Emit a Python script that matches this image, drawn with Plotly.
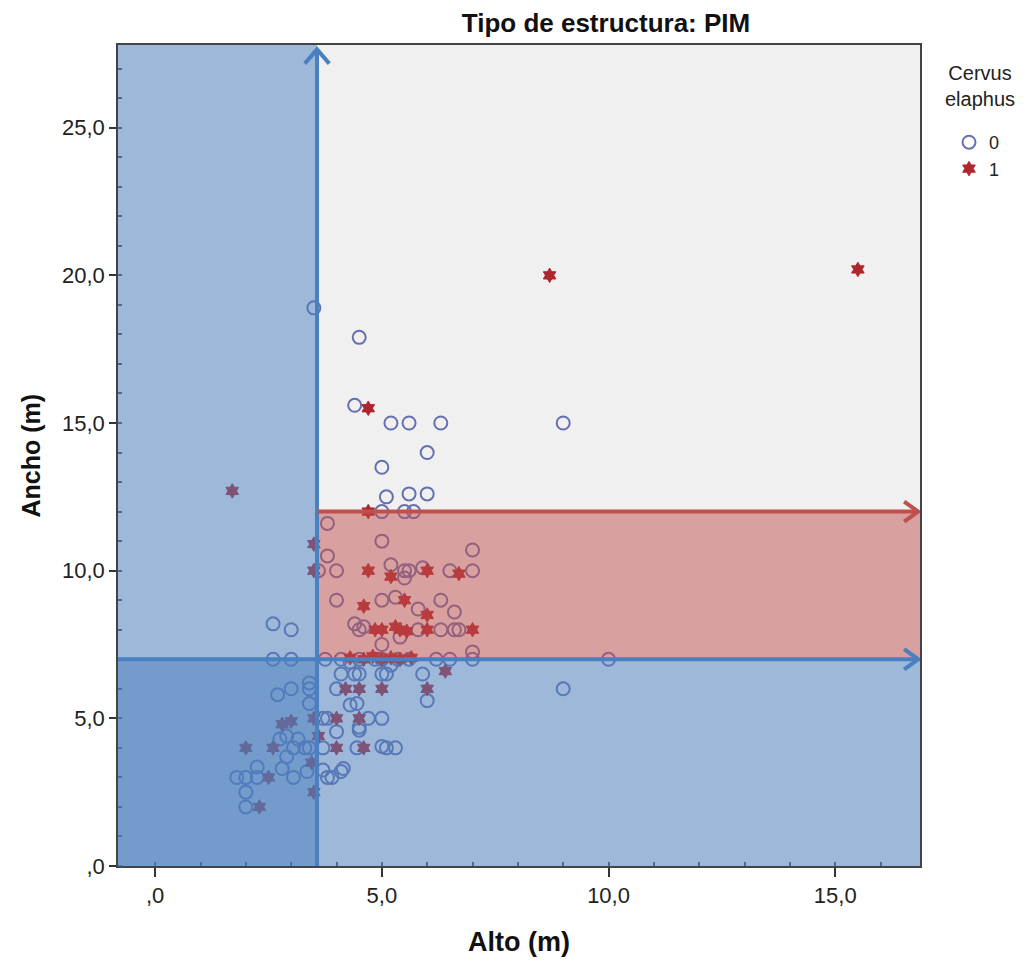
import plotly.graph_objects as go

# ---- data: group 0 (open circles) ----
alto_0 = [3.5, 4.5, 4.4, 5.2, 5.6, 6.3, 9.0, 6.0, 5.0, 5.1, 5.6, 6.0, 5.0, 5.5, 5.7,
          3.8, 5.0, 3.8, 7.0, 3.6, 4.0, 5.2, 5.5, 5.6, 5.5, 5.9, 6.5, 7.0, 4.0, 5.0, 5.3, 5.8, 6.3, 6.6,
          4.5, 4.4, 5.8, 6.3, 6.7, 6.6, 5.0, 5.4, 7.0, 4.6,
          2.6, 3.0, 3.75, 4.1, 4.5, 4.85, 5.0, 5.35, 5.6, 6.2, 6.5, 7.0, 10.0, 4.3, 5.2,
          2.6, 3.0,
          3.4, 3.0, 2.7, 3.4, 3.4, 4.1, 4.4, 4.5, 5.0, 5.1, 5.9, 4.0, 6.0, 4.45, 4.3, 9.0,
          3.7, 3.8, 5.0, 4.7, 4.5, 4.0, 4.5, 2.75, 2.9, 3.15, 3.05, 3.3, 3.4, 3.7, 4.45,
          5.0, 5.1, 5.3, 2.9, 2.25, 2.8, 3.35, 3.7, 4.1, 4.15, 1.8, 2.0, 2.25, 3.05, 3.9,
          3.8, 2.0, 2.0]
ancho_0 = [18.9, 17.9, 15.6, 15.0, 15.0, 15.0, 15.0, 14.0, 13.5, 12.5, 12.6, 12.6, 12.0, 12.0, 12.0,
           11.6, 11.0, 10.5, 10.7, 10.0, 10.0, 10.2, 10.0, 10.0, 9.75, 10.1, 10.0, 10.0, 9.0, 9.0, 9.1, 8.7, 9.0, 8.6,
           8.0, 8.2, 8.0, 8.0, 8.0, 8.0, 7.5, 7.75, 7.25, 8.1,
           7.0, 7.0, 7.0, 7.0, 7.0, 7.0, 7.0, 7.0, 7.0, 7.0, 7.0, 7.0, 7.0, 6.9, 6.8,
           8.2, 8.0,
           6.2, 6.0, 5.8, 5.5, 6.0, 6.5, 6.5, 6.5, 6.5, 6.5, 6.5, 6.0, 5.6, 5.5, 5.45, 6.0,
           5.0, 5.0, 5.0, 5.0, 4.7, 4.55, 4.6, 4.3, 4.4, 4.3, 4.0, 4.0, 4.0, 4.0, 4.0,
           4.05, 4.0, 4.0, 3.7, 3.35, 3.3, 3.2, 3.25, 3.2, 3.3, 3.0, 3.0, 3.0, 3.0, 3.0,
           3.0, 2.5, 2.0]

# ---- data: group 1 (stars) ----
alto_1 = [8.7, 15.5, 4.7, 1.7, 4.7, 3.5, 3.5, 4.7, 5.2, 6.0, 6.7, 4.6, 5.5, 6.0,
          4.85, 5.0, 5.3, 5.55, 5.4, 6.0, 7.0, 4.3, 4.6, 4.8, 5.0, 5.2, 5.4, 5.65,
          6.4, 6.0, 4.2, 4.5, 5.0, 2.8, 3.0, 3.5, 4.0, 4.5, 3.6, 2.0, 2.6, 4.0, 4.6,
          3.45, 2.5, 3.5, 2.3]
ancho_1 = [20.0, 20.2, 15.5, 12.7, 12.0, 10.9, 10.0, 10.0, 9.8, 10.0, 9.9, 8.8, 9.0, 8.5,
           8.0, 8.0, 8.1, 7.95, 8.0, 8.0, 8.0, 7.05, 7.0, 7.1, 7.0, 7.05, 7.0, 7.05,
           6.6, 6.0, 6.0, 6.0, 6.0, 4.8, 4.9, 5.0, 5.0, 5.0, 4.4, 4.0, 4.0, 4.0, 4.0,
           3.5, 3.0, 2.5, 2.0]

# ---- thresholds and axes ----
alto_cut = 3.57
ancho_low = 7.0
ancho_high = 12.0
x_range = [-0.82, 16.87]
y_range = [0, 27.8]
x_ticks = [0, 5, 10, 15]
x_ticktext = [",0", "5,0", "10,0", "15,0"]
y_ticks = [0, 5, 10, 15, 20, 25]
y_ticktext = [",0", "5,0", "10,0", "15,0", "20,0", "25,0"]

FONT = "Liberation Sans, Arial, sans-serif"
BLUE = "#4a7fc0"
RED = "#c0504d"

fig = go.Figure()
fig.add_trace(go.Scatter(
    x=alto_0, y=ancho_0, mode="markers", name="0",
    marker=dict(symbol="circle-open", size=13, color="#6670b0",
                line=dict(width=2, color="#6670b0"))))
fig.add_trace(go.Scatter(
    x=alto_1, y=ancho_1, mode="markers", name="1",
    marker=dict(symbol="hexagram", size=11, color="#b0262e",
                line=dict(width=1, color="#b0262e"))))

shapes = []
# shaded regions (semi-transparent, above points)
shapes.append(dict(type="rect", xref="x", yref="y", x0=x_range[0], x1=alto_cut,
                   y0=y_range[0], y1=y_range[1], fillcolor=BLUE, opacity=0.5,
                   line=dict(width=0), layer="above"))
shapes.append(dict(type="rect", xref="x", yref="y", x0=x_range[0], x1=x_range[1],
                   y0=y_range[0], y1=ancho_low, fillcolor=BLUE, opacity=0.5,
                   line=dict(width=0), layer="above"))
shapes.append(dict(type="rect", xref="x", yref="y", x0=alto_cut, x1=x_range[1],
                   y0=ancho_low, y1=ancho_high, fillcolor=RED, opacity=0.5,
                   line=dict(width=0), layer="above"))

tip_x = 16.83
tip_y = 27.65
# lines
shapes.append(dict(type="line", xref="x", yref="y", x0=alto_cut, x1=alto_cut,
                   y0=y_range[0], y1=tip_y, line=dict(color=BLUE, width=4), layer="above"))
shapes.append(dict(type="line", xref="x", yref="y", x0=alto_cut, x1=tip_x,
                   y0=ancho_high, y1=ancho_high, line=dict(color=RED, width=4), layer="above"))
shapes.append(dict(type="line", xref="x", yref="y", x0=x_range[0], x1=tip_x,
                   y0=ancho_low, y1=ancho_low, line=dict(color=BLUE, width=4), layer="above"))
# arrow heads (chevrons)
ax, ay = 0.27, 0.48   # vertical arrow half-width / length
hx, hy = 0.31, 0.34   # horizontal arrow length / half-height
shapes.append(dict(type="path", xref="x", yref="y",
                   path=f"M {alto_cut-ax},{tip_y-ay} L {alto_cut},{tip_y} L {alto_cut+ax},{tip_y-ay}",
                   line=dict(color=BLUE, width=4), layer="above"))
shapes.append(dict(type="path", xref="x", yref="y",
                   path=f"M {tip_x-hx},{ancho_high+hy} L {tip_x},{ancho_high} L {tip_x-hx},{ancho_high-hy}",
                   line=dict(color=RED, width=4), layer="above"))
shapes.append(dict(type="path", xref="x", yref="y",
                   path=f"M {tip_x-hx},{ancho_low+hy} L {tip_x},{ancho_low} L {tip_x-hx},{ancho_low-hy}",
                   line=dict(color=BLUE, width=4), layer="above"))

fig.update_layout(
    width=1029, height=963,
    margin=dict(l=118, r=109, t=45, b=97),
    paper_bgcolor="white", plot_bgcolor="#f0f0f0",
    font=dict(family=FONT, size=20, color="#222"),
    shapes=shapes,
    title=dict(text="<b>Tipo de estructura: PIM</b>", x=606 / 1029, xref="container", xanchor="center",
               y=1 - 23 / 963, yref="container", yanchor="middle",
               font=dict(family=FONT, size=26, color="#111")),
    showlegend=True,
    legend=dict(xref="container", yref="container", x=949 / 1029, y=1 - 124 / 963,
                xanchor="left", yanchor="top",
                font=dict(family=FONT, size=18, color="#222"),
                bgcolor="rgba(0,0,0,0)", itemwidth=30, tracegroupgap=0),
    annotations=[
        dict(text="Cervus<br>elaphus", xref="paper", yref="paper",
             x=(980 - 118) / 802, y=(866 - 86) / 821,
             showarrow=False, xanchor="center", yanchor="middle", align="center",
             font=dict(family=FONT, size=20, color="#222")),
        dict(text="<b>Alto (m)</b>", xref="paper", yref="paper", x=0.5, y=-76 / 821,
             showarrow=False, xanchor="center", yanchor="middle",
             font=dict(family=FONT, size=27, color="#111")),
        dict(text="<b>Ancho (m)</b>", xref="paper", yref="paper", x=-88 / 802, y=0.5,
             showarrow=False, xanchor="center", yanchor="middle", textangle=-90,
             font=dict(family=FONT, size=25, color="#111")),
    ],
)
fig.update_xaxes(range=x_range, tickvals=x_ticks, ticktext=x_ticktext,
                 showgrid=False, zeroline=False, showline=True, mirror=True,
                 linecolor="#444", linewidth=1.5, ticks="outside", ticklen=9,
                 tickwidth=2, tickcolor="#333",
                 minor=dict(ticks="inside", dtick=1, ticklen=4, tickcolor="#555", showgrid=False),
                 tickfont=dict(family=FONT, size=22, color="#222"))
fig.update_yaxes(range=y_range, tickvals=y_ticks, ticktext=y_ticktext,
                 showgrid=False, zeroline=False, showline=True, mirror=True,
                 linecolor="#444", linewidth=1.5, ticks="outside", ticklen=7,
                 tickwidth=2, tickcolor="#333",
                 minor=dict(ticks="inside", dtick=1, ticklen=4, tickcolor="#555", showgrid=False),
                 tickfont=dict(family=FONT, size=22, color="#222"))

fig.write_html("out.html")
